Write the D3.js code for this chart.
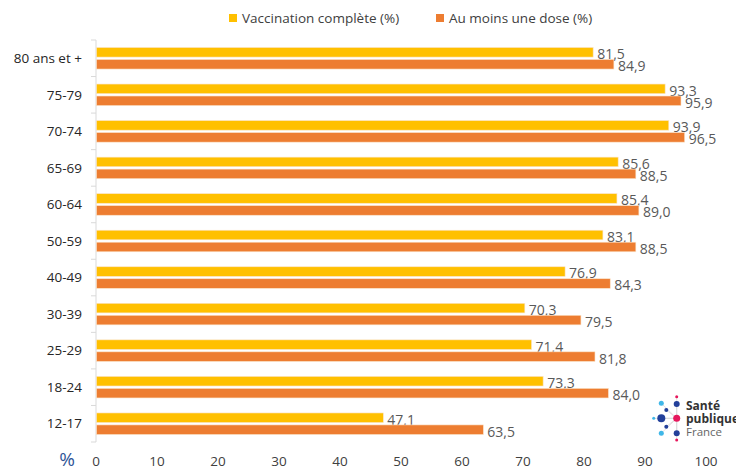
<!DOCTYPE html>
<html>
<head>
<meta charset="utf-8">
<script src="https://cdn.jsdelivr.net/npm/d3@7"></script>
<style>
  body { margin: 0; background: #fff; }
  svg { display: block; font-family: "Open Sans", "Liberation Sans", sans-serif; }
</style>
</head>
<body>
<svg id="chart" width="736" height="469"></svg>
<script>
const categories = ["80 ans et +", "75-79", "70-74", "65-69", "60-64", "50-59", "40-49", "30-39", "25-29", "18-24", "12-17"];
const complete = [81.5, 93.3, 93.9, 85.6, 85.4, 83.1, 76.9, 70.3, 71.4, 73.3, 47.1];
const oneDose = [84.9, 95.9, 96.5, 88.5, 89.0, 88.5, 84.3, 79.5, 81.8, 84.0, 63.5];
const xTicks = [0, 10, 20, 30, 40, 50, 60, 70, 80, 90, 100];
const seriesNames = ["Vaccination complète (%)", "Au moins une dose (%)"];
const colors = ["#FFC000", "#ED7D31"];

const svg = d3.select("#chart");

const x = d3.scaleLinear().domain([0, 100]).range([96, 706]);
const y = d3.scaleBand().domain(categories).range([40, 442]);
const inner = d3.scaleBand().domain([0, 1]).range([7.5, y.bandwidth() - 7.5]).paddingInner(0.2);

// vertical axis line + ticks at band edges
const axisColor = "#d9d9d9";
svg.append("line")
  .attr("x1", x(0)).attr("x2", x(0))
  .attr("y1", 40).attr("y2", 442)
  .attr("stroke", axisColor);
const edges = categories.map(c => y(c)).concat([442]);
svg.append("g").selectAll("line").data(edges).enter().append("line")
  .attr("x1", x(0) - 5).attr("x2", x(0))
  .attr("y1", d => d).attr("y2", d => d)
  .attr("stroke", axisColor);

// category labels
svg.append("g").selectAll("text").data(categories).enter().append("text")
  .attr("x", 82)
  .attr("y", d => y(d) + y.bandwidth() / 2)
  .attr("dy", "0.35em")
  .attr("text-anchor", "end")
  .attr("font-size", 13.5)
  .attr("fill", "#262626")
  .text(d => d);

// bars
const series = [complete, oneDose];
series.forEach(function (vals, s) {
  const rows = categories.map((c, i) => ({ c: c, v: vals[i] }));
  svg.append("g").selectAll("rect").data(rows).enter().append("rect")
    .attr("x", x(0) + 0.5)
    .attr("y", d => y(d.c) + inner(s))
    .attr("width", d => x(d.v) - x(0) - 0.5)
    .attr("height", inner.bandwidth())
    .attr("fill", colors[s])
    .attr("stroke", "#fbe3c8")
    .attr("stroke-width", 0.6);
  svg.append("g").selectAll("text").data(rows).enter().append("text")
    .attr("x", d => x(d.v) + 4)
    .attr("y", d => y(d.c) + inner(s) + inner.bandwidth() / 2 + 2)
    .attr("dy", "0.35em")
    .attr("font-size", 14)
    .attr("fill", "#595959")
    .text(d => d3.format(".1f")(d.v).replace(".", ","));
});

// x tick labels
svg.append("g").selectAll("text").data(xTicks).enter().append("text")
  .attr("x", d => x(d))
  .attr("y", 466)
  .attr("text-anchor", "middle")
  .attr("font-size", 13.5)
  .attr("fill", "#404040")
  .text(d => d);

svg.append("text")
  .attr("x", 67).attr("y", 466)
  .attr("text-anchor", "middle")
  .attr("font-size", 19)
  .attr("fill", "#2F5597")
  .text("%");

// legend
const legendX = [229, 436];
seriesNames.forEach(function (name, i) {
  svg.append("rect")
    .attr("x", legendX[i]).attr("y", 14)
    .attr("width", 8).attr("height", 8)
    .attr("fill", colors[i]);
  svg.append("text")
    .attr("x", legendX[i] + 13).attr("y", 18.5)
    .attr("dy", "0.35em")
    .attr("font-size", 13.5)
    .attr("fill", "#404040")
    .text(name);
});

// Santé publique France logo
const logo = svg.append("g").attr("class", "logo");
const hub = [676.7, 418.3];
const dots = [
  [676.7, 396.7, 1.5, "#e6175c"], [661.3, 403.3, 2.5, "#3fb7e8"], [676.7, 404, 3, "#23409a"],
  [666.3, 410, 2, "#23409a"], [653.7, 418.3, 1.5, "#3fb7e8"], [661.3, 418.3, 4, "#23409a"],
  [666.3, 426.7, 2, "#23409a"], [661.3, 433.3, 2.5, "#3fb7e8"], [676.7, 433.3, 3, "#23409a"],
  [676.7, 440, 1.5, "#e6175c"]
];
logo.selectAll("line").data(dots).enter().append("line")
  .attr("x1", hub[0]).attr("y1", hub[1])
  .attr("x2", d => d[0]).attr("y2", d => d[1])
  .attr("stroke", "#d0d0d0").attr("stroke-width", 0.6);
logo.selectAll("circle").data(dots).enter().append("circle")
  .attr("cx", d => d[0]).attr("cy", d => d[1]).attr("r", d => d[2]).attr("fill", d => d[3]);
logo.append("circle").attr("cx", hub[0]).attr("cy", hub[1]).attr("r", 3.5).attr("fill", "#e6175c");
logo.append("text").attr("x", 686).attr("y", 410).attr("font-size", 12).attr("font-weight", "bold").attr("fill", "#333").text("Santé");
logo.append("text").attr("x", 686).attr("y", 422.5).attr("font-size", 12).attr("font-weight", "bold").attr("fill", "#333").text("publique");
logo.append("text").attr("x", 686).attr("y", 436).attr("font-size", 11.5).attr("fill", "#666").text("France");
</script>
</body>
</html>
